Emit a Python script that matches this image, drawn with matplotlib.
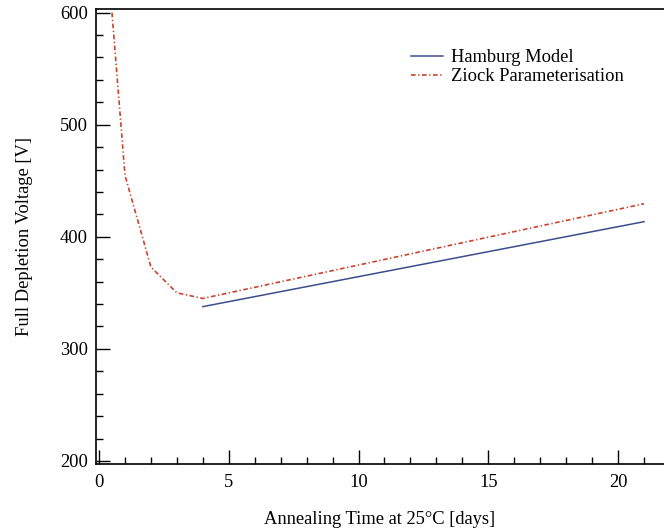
import numpy as np
import matplotlib
matplotlib.use("Agg")
import matplotlib.pyplot as plt

plt.rcParams['font.family'] = ['Liberation Serif', 'DejaVu Serif']
plt.rcParams['mathtext.fontset'] = 'stix'

# annealing time in days and depletion voltage in volts
hamburg_days = [4, 21]
hamburg_volts = [337.7, 413.5]

ziock_days = [0.5, 1, 2, 3, 4, 21]
ziock_volts = [600, 455, 373, 350, 345, 429.5]

fs = 13.3

fig = plt.figure(figsize=(6.64, 5.31), dpi=100)
ax = fig.add_axes([0.1446, 0.1262, 0.8554, 0.8563])

ax.plot(hamburg_days, hamburg_volts, color='#3d4d8c', lw=1.1, label='Hamburg Model')
ax.plot(ziock_days, ziock_volts, color='#cc432d', lw=1.2,
        dashes=[2.8, 1.5, 0.8, 1.5], label='Ziock Parameterisation')

ax.set_xlim(-0.115, 21.77)
ax.set_ylim(197.3, 603)

ax.set_xticks([0, 5, 10, 15, 20])
ax.set_xticks(np.arange(0, 22, 1), minor=True)
ax.set_yticks([200, 300, 400, 500, 600])
ax.set_yticks(np.arange(200, 601, 20), minor=True)

ax.tick_params(which='both', direction='in', width=1.0, labelsize=fs,
               top=False, right=False)
ax.tick_params(which='major', length=10)
ax.tick_params(which='minor', length=5)
ax.tick_params(axis='x', pad=7.5)
ax.tick_params(axis='y', pad=6)

for s in ['left', 'bottom', 'top']:
    ax.spines[s].set_linewidth(1.2)
ax.spines['right'].set_visible(False)

ax.set_xlabel('Annealing Time at 25°C [days]', fontsize=fs, labelpad=14)
ax.set_ylabel('Full Depletion Voltage [V]', fontsize=fs, labelpad=19)

ax.legend(loc='upper left', bbox_to_anchor=(0.5546, 0.912), frameon=False,
          fontsize=fs, handlelength=1.73, handletextpad=0.43,
          labelspacing=0.1, borderpad=0, borderaxespad=0)

fig.savefig('out.png', dpi=100)
